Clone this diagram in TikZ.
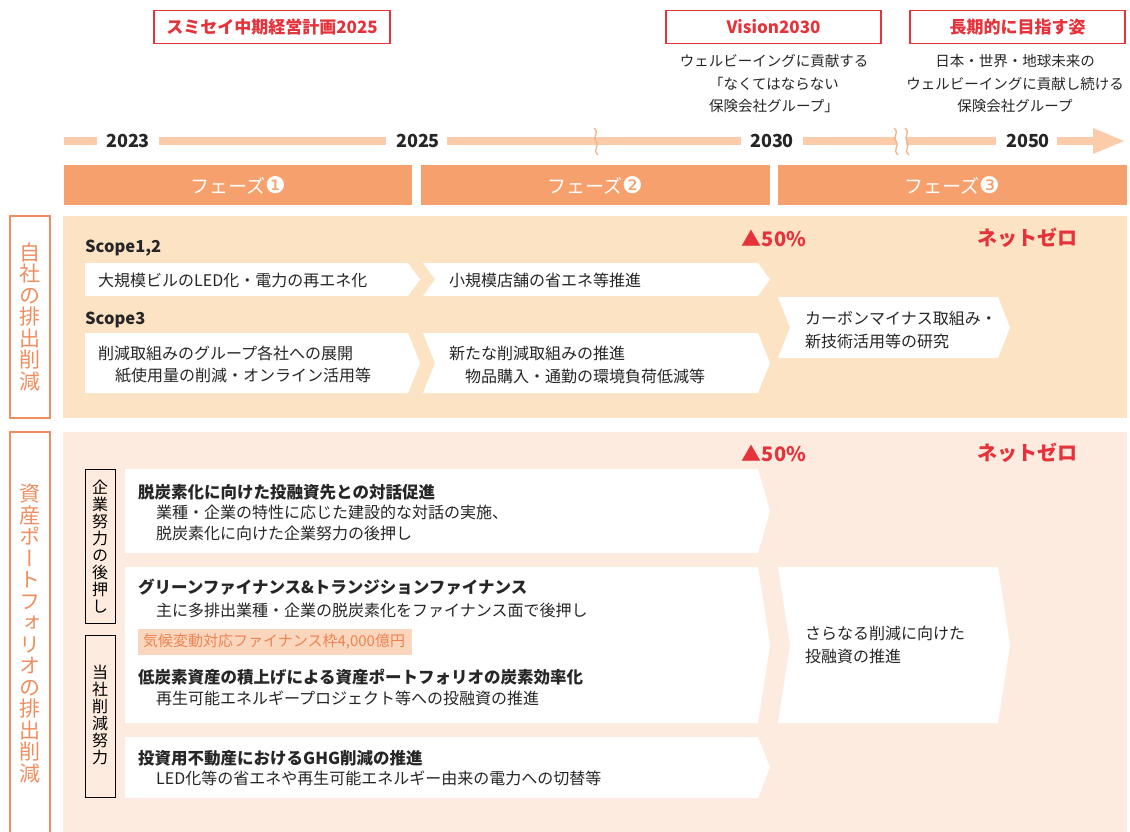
\documentclass[tikz,border=0pt]{standalone}
\usepackage{fontspec}
\setmainfont{Noto Sans CJK JP}
\newfontfamily\vjp[RawFeature=+vert]{Noto Sans CJK JP}
\newfontfamily\dejavu{DejaVu Sans}
\definecolor{txt}{HTML}{262626}
\definecolor{redc}{HTML}{E5323B}
\definecolor{phase}{HTML}{F6A06D}
\definecolor{tline}{HTML}{FBCBAA}
\definecolor{pan1}{HTML}{FCE3C4}
\definecolor{pan2}{HTML}{FDEBDF}
\definecolor{lab}{HTML}{EF8E60}
\definecolor{hl}{HTML}{FAD6BE}
\definecolor{hltxt}{HTML}{EC8450}
\definecolor{squig}{HTML}{F2B48C}
\newcommand\chevbox[5]{\fill[white] (#1,#4) -- (#3,#4) -- ({#3+12},{(#4+#5)/2}) -- (#3,#5) -- (#1,#5) -- (#2,{(#4+#5)/2}) -- cycle;}
\tikzset{
 body/.style={anchor=west, inner sep=0pt, text=txt, font=\fontsize{16}{20}\selectfont},
 head/.style={anchor=west, inner sep=0pt, text=txt, font=\fontsize{16.5}{20}\selectfont\bfseries},
 scopelbl/.style={anchor=west, inner sep=0pt, text=txt, font=\fontsize{16.5}{20}\selectfont\bfseries},
 redbox/.style={draw=redc, line width=1.5pt, fill=white, text=redc, font=\fontsize{17}{20}\selectfont\bfseries, minimum height=33pt, inner sep=0pt},
 subtxt/.style={align=center, text=txt, inner sep=0pt, font=\fontsize{14.5}{22.5}\selectfont},
 year/.style={text=txt, inner sep=0pt, font=\fontsize{18}{20}\selectfont\bfseries},
 phasebar/.style={fill=phase},
 phasetxt/.style={text=white, inner sep=0pt, font=\fontsize{19}{20}\selectfont},
 target/.style={text=redc, inner sep=0pt, font=\fontsize{20}{22}\selectfont\bfseries},
 bigvert/.style={align=center, text=lab, inner sep=0pt, font=\vjp\fontsize{21}{21.5}\selectfont},
 smallvert/.style={align=center, text=black, inner sep=0pt, font=\vjp\fontsize{16}{17}\selectfont},
 tl/.style={draw=tline, line width=8pt},
 sq/.style={draw=squig, line width=1.3pt},
}
\begin{document}
\begin{tikzpicture}[x=1pt,y=-1pt]
\useasboundingbox (0,0) rectangle (1130,832);
\clip (0,0) rectangle (1130,832);
\fill[white] (0,0) rectangle (1130,832);

% header boxes
\node[redbox, minimum width=236pt] (plan) at (272,27) {スミセイ中期経営計画2025};
\node[redbox, minimum width=215pt] (vis) at (773.5,27) {Vision2030};
\node[redbox, minimum width=215pt] (long) at (1017.5,27) {長期的に目指す姿};
\node[subtxt] (vtxt) at (774,84) {ウェルビーイングに貢献する\\「なくてはならない\\保険会社グループ」};
\node[subtxt] (ltxt) at (1015,84) {日本・世界・地球未来の\\ウェルビーイングに貢献し続ける\\保険会社グループ};

% timeline
\draw[tl] (64,141) -- (97,141);
\draw[tl] (159,141) -- (386,141);
\draw[tl] (447,141) -- (741,141);
\draw[tl] (803,141) -- (896,141);
\draw[tl] (906,141) -- (996,141);
\draw[tl] (1057,141) -- (1094,141);
\fill[tline] (1093,128) -- (1124,141) -- (1093,154) -- cycle;
\draw[sq] (594,128) .. controls (600,133) and (592,137) .. (596,141) .. controls (600,145) and (592,150) .. (598,155);
\draw[sq] (894,128) .. controls (900,133) and (892,137) .. (896,141) .. controls (900,145) and (892,150) .. (898,155);
\draw[sq] (905,128) .. controls (911,133) and (903,137) .. (907,141) .. controls (911,145) and (903,150) .. (909,155);
\node[year] (y23) at (128,141) {2023};
\node[year] (y25) at (418,141) {2025};
\node[year] (y30) at (772,141) {2030};
\node[year] (y50) at (1028,141) {2050};

% phases
\fill[phasebar] (64,165) rectangle (412,205);
\fill[phasebar] (421,165) rectangle (770,205);
\fill[phasebar] (778,165) rectangle (1127,205);
\node[phasetxt] (ph1) at (238,185) {フェーズ{\dejavu\fontsize{23}{24}\selectfont ❶}};
\node[phasetxt] (ph2) at (595,185) {フェーズ{\dejavu\fontsize{23}{24}\selectfont ❷}};
\node[phasetxt] (ph3) at (952,185) {フェーズ{\dejavu\fontsize{23}{24}\selectfont ❸}};

% panel 1
\fill[pan1] (63,216) rectangle (1127,418);
\draw[lab, line width=1.5pt] (10,216) rectangle (50,418);
\node[bigvert] (lab1) at (30,317) {自\\社\\の\\排\\出\\削\\減};
\node[target] (t1a) at (774,238) {▲50\%};
\node[target] (t1b) at (1027,238) {ネットゼロ};
\node[scopelbl] (sc12) at (85,248) {Scope1,2};
\node[scopelbl] (sc3) at (85,320) {Scope3};
\chevbox{85}{85}{408}{263}{296}
\chevbox{423}{435}{758}{263}{296}
\chevbox{85}{85}{408}{333}{393}
\chevbox{423}{435}{758}{333}{393}
\chevbox{778}{790}{998}{297}{358}
\node[body] (a1) at (98,280) {大規模ビルのLED化・電力の再エネ化};
\node[body] (a2) at (449,280) {小規模店舗の省エネ等推進};
\node[body] (b1a) at (98,353) {削減取組みのグループ各社への展開};
\node[body] (b1b) at (115,376) {紙使用量の削減・オンライン活用等};
\node[body] (b2a) at (449,353) {新たな削減取組みの推進};
\node[body] (b2b) at (465,376) {物品購入・通勤の環境負荷低減等};
\node[body] (ca) at (805,318) {カーボンマイナス取組み・};
\node[body] (cb) at (805,341) {新技術活用等の研究};

% panel 2
\fill[pan2] (63,432) rectangle (1127,850);
\draw[lab, line width=1.5pt] (10,432) rectangle (50,850);
\node[bigvert] (lab2) at (30,633.5) {資\\産\\ポ\\ー\\ト\\フ\\ォ\\リ\\オ\\の\\排\\出\\削\\減};
\node[target] (t2a) at (774,453) {▲50\%};
\node[target] (t2b) at (1027,453) {ネットゼロ};
\draw[black, line width=1pt] (85,469) rectangle (115,623);
\node[smallvert] (s1) at (100,547) {企\\業\\努\\力\\の\\後\\押\\し};
\draw[black, line width=1pt] (85,635) rectangle (115,797);
\node[smallvert] (s2) at (100,715) {当\\社\\削\\減\\努\\力};
\chevbox{125}{125}{758}{469}{553}
\chevbox{125}{125}{758}{567}{723}
\chevbox{125}{125}{758}{737}{798}
\chevbox{778}{790}{998}{567}{723}
\node[head] (d1a) at (138,492) {脱炭素化に向けた投融資先との対話促進};
\node[body] (d1b) at (156,512) {業種・企業の特性に応じた建設的な対話の実施、};
\node[body] (d1c) at (156,533) {脱炭素化に向けた企業努力の後押し};
\node[head] (d2a) at (138,587) {グリーンファイナンス\&トランジションファイナンス};
\node[body] (d2b) at (156,610) {主に多排出業種・企業の脱炭素化をファイナンス面で後押し};
\fill[hl] (138,629) rectangle (412,655);
\node[body, text=hltxt, font=\fontsize{15}{20}\selectfont] (d2c) at (143,642) {気候変動対応ファイナンス枠4,000億円};
\node[head] (d2d) at (138,677) {低炭素資産の積上げによる資産ポートフォリオの炭素効率化};
\node[body] (d2e) at (156,698) {再生可能エネルギープロジェクト等への投融資の推進};
\node[head] (d3a) at (138,758) {投資用不動産におけるGHG削減の推進};
\node[body] (d3b) at (156,778) {LED化等の省エネや再生可能エネルギー由来の電力への切替等};
\node[body] (ea) at (805,633) {さらなる削減に向けた};
\node[body] (eb) at (805,656) {投融資の推進};
\end{tikzpicture}
\end{document}
